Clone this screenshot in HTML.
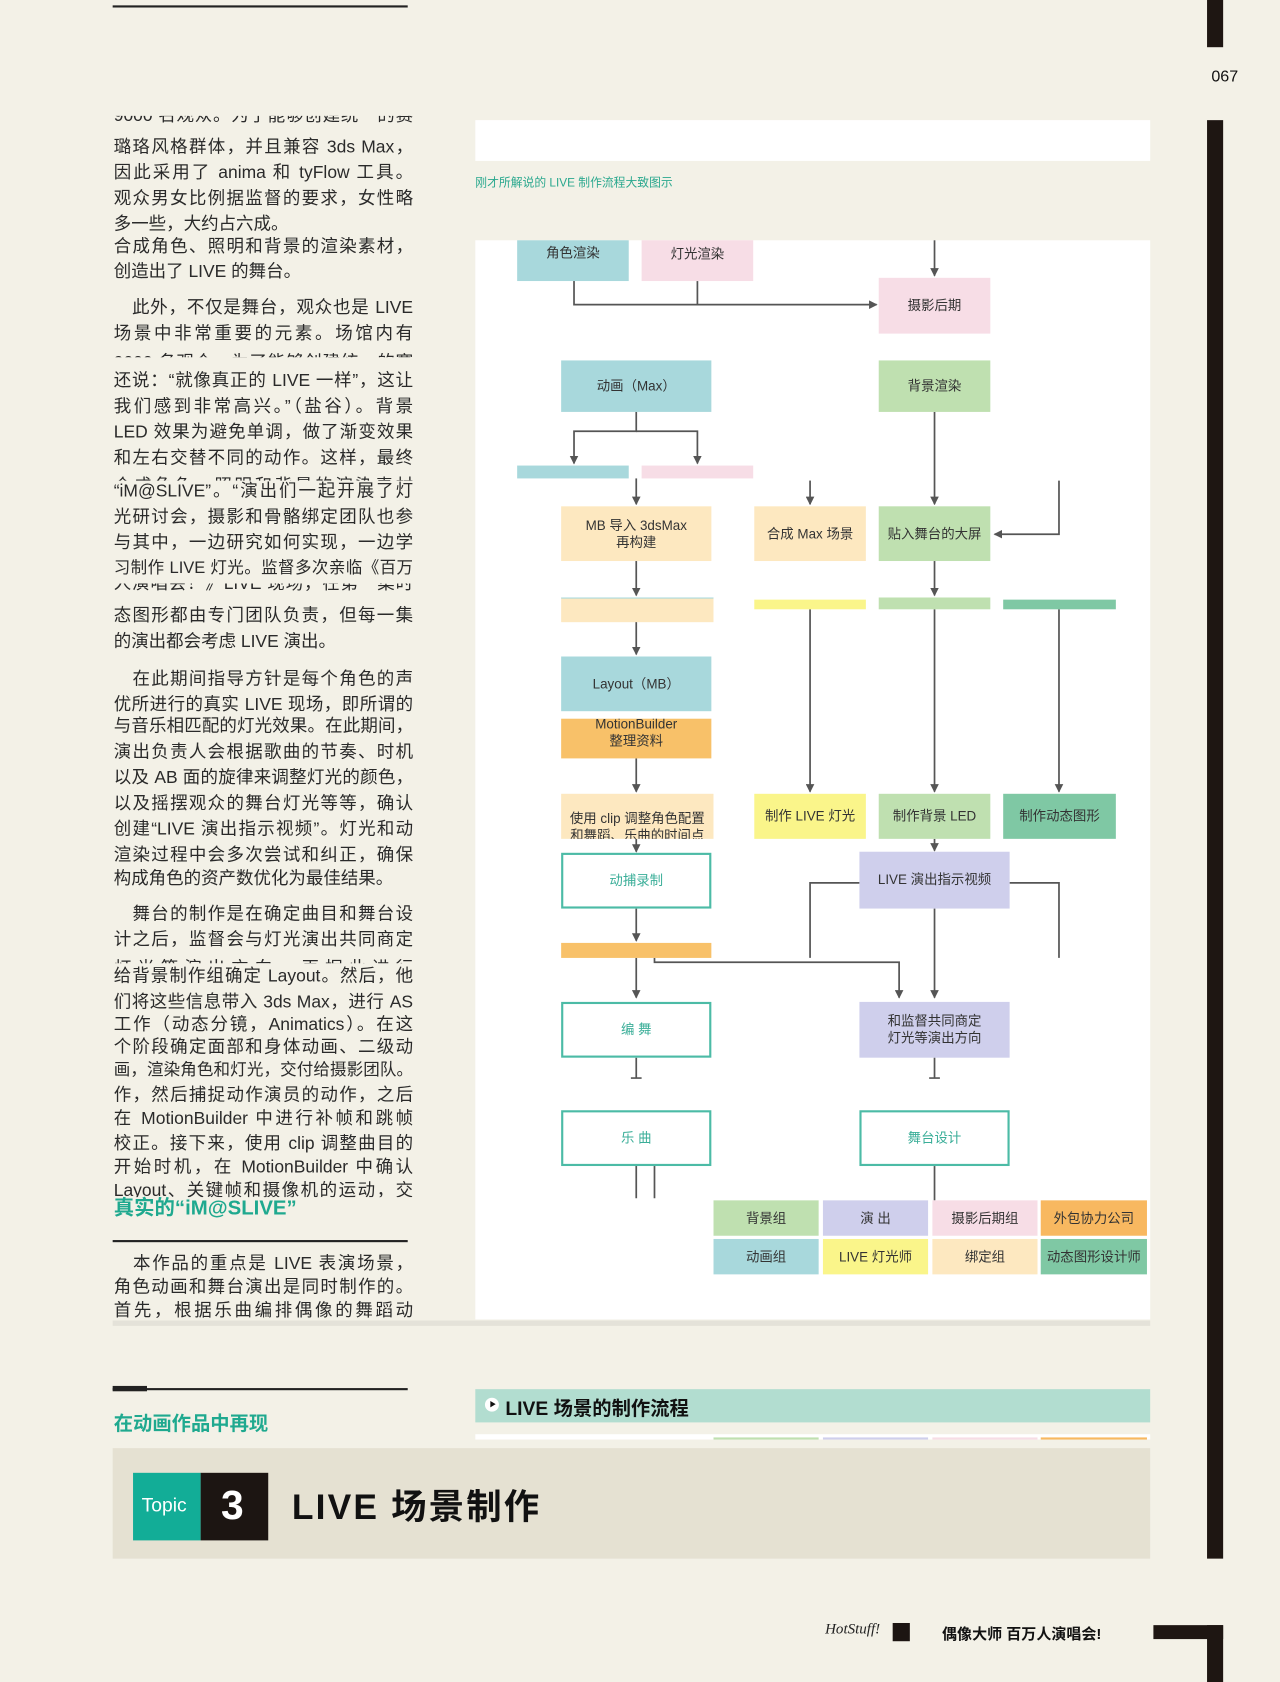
<!DOCTYPE html>
<html><head><meta charset="utf-8">
<style>
html,body{margin:0;padding:0;background:#f3f1e7;overflow:hidden}
body{width:1280px;height:1682px}
#w{position:absolute;left:0;top:0;width:1193px;height:1568px;transform:scale(1.07293,1.0727);transform-origin:0 0;font-family:"Liberation Sans","Noto Sans CJK SC",sans-serif;color:#333}
.a{position:absolute}
.n{position:absolute;display:flex;align-items:center;justify-content:center;text-align:center;font-size:12.5px;line-height:16px;color:#333;box-sizing:border-box}
.o{border:2px solid #4cbba6;background:#fff;color:#3aae98}
.bl{background:#a8d8dc}.pk{background:#f7dde6}.gr{background:#bfe0b0}.cr{background:#fde8c0}.ye{background:#faf58a}.dg{background:#7fc8a4}.lv{background:#cfcfec}.or{background:#f8c169}
.t{position:absolute;left:106px;width:279px;font-size:16.3px;line-height:20px;height:20px;white-space:nowrap;color:#2a2a2a;text-align:justify;text-align-last:justify;overflow:hidden}
.t.l{text-align-last:left}
.c{height:5px}
.cb{height:10px}
.cb span{position:relative;top:-10px}
.s{font-size:15.4px}
</style></head><body><div id="w">
<div class="a" style="left:105px;top:5px;width:275px;height:2px;background:#222"></div>
<div class="a" style="left:1125px;top:0;width:15px;height:44px;background:#1e1612"></div>
<div class="a" style="left:1125px;top:112px;width:15px;height:1341px;background:#1e1612"></div>
<div class="a" style="left:1075px;top:1515px;width:65px;height:13px;background:#1e1612"></div>
<div class="a" style="left:1125px;top:1515px;width:15px;height:53px;background:#1e1612"></div>
<div class="a" style="left:1129px;top:63px;font-size:15px;color:#111">067</div>

<div class="a" style="left:443px;top:112px;width:629px;height:38px;background:#fff"></div>
<div class="a" style="left:443px;top:162px;font-size:11px;color:#2aa88e">刚才所解说的 LIVE 制作流程大致图示</div>

<div class="t cb" style="top:108px"><span>9000 名观众。为了能够创建统一的赛</span></div>
<div class="t" style="top:127px">璐珞风格群体，并且兼容 3ds Max，</div>
<div class="t" style="top:151px">因此采用了 anima 和 tyFlow 工具。</div>
<div class="t" style="top:175px">观众男女比例据监督的要求，女性略</div>
<div class="t l" style="top:199px">多一些，大约占六成。</div>
<div class="t" style="top:220px">合成角色、照明和背景的渲染素材，</div>
<div class="t l" style="top:243px">创造出了 LIVE 的舞台。</div>
<div class="t" style="top:277px">　此外，不仅是舞台，观众也是 LIVE</div>
<div class="t" style="top:301px">场景中非常重要的元素。场馆内有</div>
<div class="t c" style="top:328px">9000 名观众，为了能够创建统一的赛</div>
<div class="t" style="top:345px">还说：“就像真正的 LIVE 一样”，这让</div>
<div class="t" style="top:369px">我们感到非常高兴。”（盐谷）。背景</div>
<div class="t" style="top:393px">LED 效果为避免单调，做了渐变效果</div>
<div class="t" style="top:417px">和左右交替不同的动作。这样，最终</div>
<div class="t c" style="top:443px">合成角色、照明和背景的渲染素材</div>
<div class="t" style="top:448px">“iM@SLIVE”。“演出们一起开展了灯</div>
<div class="t" style="top:472px">光研讨会，摄影和骨骼绑定团队也参</div>
<div class="t" style="top:496px">与其中，一边研究如何实现，一边学</div>
<div class="t s" style="top:520px">习制作 LIVE 灯光。监督多次亲临《百万</div>
<div class="t cb" style="top:544px"><span>人演唱会！》LIVE 现场，在第一集时</span></div>
<div class="t" style="top:564px">态图形都由专门团队负责，但每一集</div>
<div class="t l" style="top:588px">的演出都会考虑 LIVE 演出。</div>
<div class="t" style="top:623px">　在此期间指导方针是每个角色的声</div>
<div class="t" style="top:647px">优所进行的真实 LIVE 现场，即所谓的</div>
<div class="t" style="top:667px">与音乐相匹配的灯光效果。在此期间，</div>
<div class="t" style="top:691px">演出负责人会根据歌曲的节奏、时机</div>
<div class="t" style="top:715px">以及 AB 面的旋律来调整灯光的颜色，</div>
<div class="t" style="top:739px">以及摇摆观众的舞台灯光等等，确认</div>
<div class="t" style="top:763px">创建“LIVE 演出指示视频”。灯光和动</div>
<div class="t" style="top:787px">渲染过程中会多次尝试和纠正，确保</div>
<div class="t l" style="top:809px">构成角色的资产数优化为最佳结果。</div>
<div class="t" style="top:842px">　舞台的制作是在确定曲目和舞台设</div>
<div class="t" style="top:866px">计之后，监督会与灯光演出共同商定</div>
<div class="t c" style="top:893px">灯光等演出方向，再据此进行</div>
<div class="t" style="top:900px">给背景制作组确定 Layout。然后，他</div>
<div class="t" style="top:924px">们将这些信息带入 3ds Max，进行 AS</div>
<div class="t" style="top:945px">工作（动态分镜，Animatics）。在这</div>
<div class="t" style="top:966px">个阶段确定面部和身体动画、二级动</div>
<div class="t s" style="top:988px">画，渲染角色和灯光，交付给摄影团队。</div>
<div class="t" style="top:1011px">作，然后捕捉动作演员的动作，之后</div>
<div class="t" style="top:1033px">在 MotionBuilder 中进行补帧和跳帧</div>
<div class="t" style="top:1056px">校正。接下来，使用 clip 调整曲目的</div>
<div class="t" style="top:1078px">开始时机，在 MotionBuilder 中确认</div>
<div class="t" style="top:1100px;height:16px">Layout、关键帧和摄像机的运动，交</div>
<div class="a" style="left:106px;top:1116px;font-size:19px;font-weight:bold;color:#1fa98f;line-height:22px">真实的“iM@SLIVE”</div>
<div class="a" style="left:105px;top:1156px;width:275px;height:1.5px;background:#222"></div>
<div class="t" style="top:1168px">　本作品的重点是 LIVE 表演场景，</div>
<div class="t" style="top:1190px">角色动画和舞台演出是同时制作的。</div>
<div class="t" style="top:1212px;height:18px">首先，根据乐曲编排偶像的舞蹈动</div>

<div class="a" style="left:443px;top:224px;width:629px;height:1006px;background:#fff"></div>
<div class="a" style="left:105px;top:1231px;width:967px;height:5px;background:#e4e2d9"></div>

<svg class="a" style="left:0;top:0" width="1193" height="1568">
<defs><marker id="ar" markerWidth="8" markerHeight="8" refX="7" refY="4" orient="auto" markerUnits="userSpaceOnUse"><path d="M0,0 L8,4 L0,8 z" fill="#555"/></marker></defs>
<g stroke="#555" stroke-width="1.6" fill="none">
<path d="M535 262V284H817" marker-end="url(#ar)"/>
<path d="M650 262V284"/>
<path d="M871 224V257" marker-end="url(#ar)"/>
<path d="M593 384V402H535V432" marker-end="url(#ar)"/>
<path d="M593 402H650V432" marker-end="url(#ar)"/>
<path d="M593 446V470" marker-end="url(#ar)"/>
<path d="M755 448V470" marker-end="url(#ar)"/>
<path d="M871 384V470" marker-end="url(#ar)"/>
<path d="M987 448V498H927" marker-end="url(#ar)"/>
<path d="M593 523V555" marker-end="url(#ar)"/>
<path d="M871 523V555" marker-end="url(#ar)"/>
<path d="M593 579V610" marker-end="url(#ar)"/>
<path d="M593 707V738" marker-end="url(#ar)"/>
<path d="M755 568V738" marker-end="url(#ar)"/>
<path d="M871 568V738" marker-end="url(#ar)"/>
<path d="M987 568V738" marker-end="url(#ar)"/>
<path d="M871 782V793" marker-end="url(#ar)"/>
<path d="M593 782V794" marker-end="url(#ar)"/>
<path d="M801 823H755V893"/>
<path d="M941 823H987V893"/>
<path d="M593 847V877" marker-end="url(#ar)"/>
<path d="M593 893V930" marker-end="url(#ar)"/>
<path d="M610 893V897H838V930" marker-end="url(#ar)"/>
<path d="M871 847V930" marker-end="url(#ar)"/>
<path d="M593 986V1005M588 1005H598"/>
<path d="M871 986V1005M866 1005H876"/>
<path d="M593 1087V1117M610 1087V1117"/>
<path d="M871 1087V1119"/>
</g></svg>

<div class="n bl" style="left:482px;top:224px;width:104px;height:38px;align-items:flex-start;padding-top:4px">角色渲染</div>
<div class="n pk" style="left:598px;top:224px;width:104px;height:38px;align-items:flex-start;padding-top:5px">灯光渲染</div>
<div class="n pk" style="left:819px;top:259px;width:104px;height:52px">摄影后期</div>
<div class="n bl" style="left:523px;top:336px;width:140px;height:48px">动画（Max）</div>
<div class="n gr" style="left:819px;top:336px;width:104px;height:48px">背景渲染</div>
<div class="a bl" style="left:482px;top:434px;width:104px;height:12px"></div>
<div class="a pk" style="left:598px;top:434px;width:104px;height:12px"></div>
<div class="n cr" style="left:523px;top:472px;width:140px;height:51px">MB 导入 3dsMax<br>再构建</div>
<div class="n cr" style="left:703px;top:472px;width:104px;height:51px">合成 Max 场景</div>
<div class="n gr" style="left:819px;top:472px;width:104px;height:51px">贴入舞台的大屏</div>
<div class="a cr" style="left:523px;top:557px;width:142px;height:22px;border-top:1px solid #a8d8dc"></div>
<div class="a ye" style="left:703px;top:559px;width:104px;height:9px"></div>
<div class="a gr" style="left:819px;top:557px;width:104px;height:11px"></div>
<div class="a dg" style="left:935px;top:559px;width:105px;height:9px"></div>
<div class="n bl" style="left:523px;top:612px;width:140px;height:51px">Layout（MB）</div>
<div class="n or" style="left:523px;top:670px;width:140px;height:37px;overflow:hidden;align-items:flex-start"><span style="position:relative;top:-3px">MotionBuilder<br>整理资料</span></div>
<div class="n cr" style="left:523px;top:740px;width:142px;height:42px;overflow:hidden;align-items:flex-start"><span style="position:relative;top:15px">使用 clip 调整角色配置<br>和舞蹈、乐曲的时间点</span></div>
<div class="n ye" style="left:703px;top:740px;width:104px;height:42px">制作 LIVE 灯光</div>
<div class="n gr" style="left:819px;top:740px;width:104px;height:42px">制作背景 LED</div>
<div class="n dg" style="left:935px;top:740px;width:105px;height:42px">制作动态图形</div>
<div class="n o" style="left:523px;top:795px;width:140px;height:52px">动捕录制</div>
<div class="n lv" style="left:801px;top:794px;width:140px;height:53px;align-items:flex-start;padding-top:18px">LIVE 演出指示视频</div>
<div class="a or" style="left:523px;top:879px;width:140px;height:14px"></div>
<div class="n o" style="left:523px;top:934px;width:140px;height:52px">编 舞</div>
<div class="n lv" style="left:801px;top:934px;width:140px;height:52px">和监督共同商定<br>灯光等演出方向</div>
<div class="n o" style="left:523px;top:1035px;width:140px;height:52px">乐 曲</div>
<div class="n o" style="left:801px;top:1035px;width:140px;height:52px">舞台设计</div>
<div class="n gr" style="left:665px;top:1119px;width:98px;height:33px">背景组</div>
<div class="n lv" style="left:767px;top:1119px;width:98px;height:33px">演 出</div>
<div class="n pk" style="left:869px;top:1119px;width:98px;height:33px">摄影后期组</div>
<div class="n" style="left:970px;top:1119px;width:99px;height:33px;background:#f8b860">外包协力公司</div>
<div class="n bl" style="left:665px;top:1155px;width:98px;height:33px">动画组</div>
<div class="n ye" style="left:767px;top:1155px;width:98px;height:33px">LIVE 灯光师</div>
<div class="n cr" style="left:869px;top:1155px;width:98px;height:33px">绑定组</div>
<div class="n dg" style="left:970px;top:1155px;width:99px;height:33px">动态图形设计师</div>

<div class="a" style="left:105px;top:1294px;width:275px;height:1.5px;background:#222"></div>
<div class="a" style="left:105px;top:1292px;width:32px;height:5px;background:#222"></div>
<div class="a" style="left:106px;top:1313px;font-size:18px;font-weight:bold;color:#1fa98f">在动画作品中再现</div>
<div class="a" style="left:443px;top:1295px;width:629px;height:31px;background:#b2ddd0"></div>
<div class="a" style="left:452px;top:1303px;width:13px;height:13px;border-radius:50%;background:#fff"></div>
<div class="a" style="left:457px;top:1306px;width:0;height:0;border-left:5px solid #111;border-top:3.5px solid transparent;border-bottom:3.5px solid transparent"></div>
<div class="a" style="left:471px;top:1299px;font-size:18px;font-weight:bold;color:#111">LIVE 场景的制作流程</div>
<div class="a" style="left:443px;top:1337px;width:629px;height:5px;background:#fff"></div>
<div class="a gr" style="left:665px;top:1340px;width:98px;height:2px"></div>
<div class="a lv" style="left:767px;top:1340px;width:98px;height:2px"></div>
<div class="a pk" style="left:869px;top:1340px;width:98px;height:2px"></div>
<div class="a" style="left:970px;top:1340px;width:99px;height:2px;background:#f8b860"></div>
<div class="a" style="left:105px;top:1350px;width:967px;height:103px;background:#e5e1d2"></div>
<div class="a" style="left:124px;top:1373px;width:63px;height:63px;background:#12ad97"></div>
<div class="a" style="left:187px;top:1373px;width:63px;height:63px;background:#1c1512"></div>
<div class="a" style="left:132px;top:1393px;font-size:18px;color:#fff">Topic</div>
<div class="a" style="left:206px;top:1381px;font-size:38px;font-weight:bold;color:#fff;line-height:46px">3</div>
<div class="a" style="left:272px;top:1385px;font-size:33px;font-weight:bold;color:#111;letter-spacing:2px;line-height:40px">LIVE 场景制作</div>
<div class="a" style="left:769px;top:1512px;font-size:14px;font-style:italic;font-family:'Liberation Serif',serif;color:#222">HotStuff!</div>
<div class="a" style="left:832px;top:1513px;width:16px;height:17px;background:#1c1512"></div>
<div class="a" style="left:878px;top:1513px;font-size:14px;font-weight:bold;color:#111">偶像大师 百万人演唱会!</div>
</div></body></html>
